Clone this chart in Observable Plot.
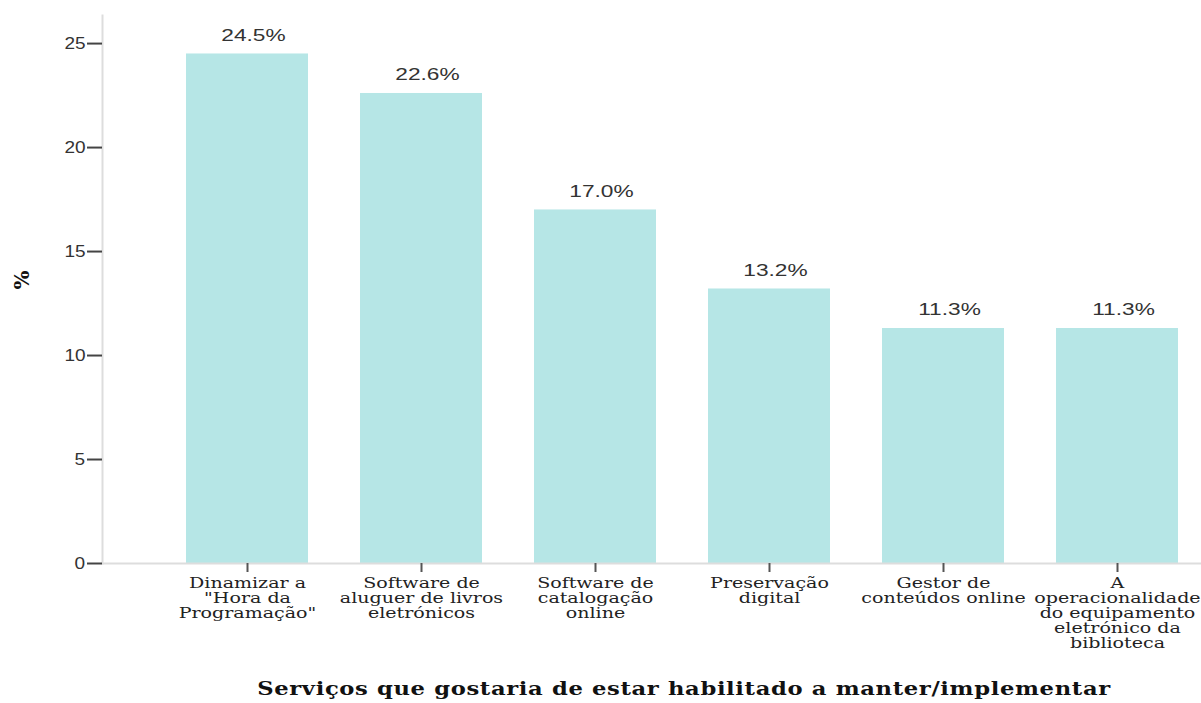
<!DOCTYPE html>
<html>
<head>
<meta charset="utf-8">
<script src="https://cdn.jsdelivr.net/npm/d3@7"></script>
<script src="https://cdn.jsdelivr.net/npm/@observablehq/plot@0.6"></script>
<style>
  html, body { margin: 0; padding: 0; background: #fff; }
  #chart svg { display: block; }
</style>
</head>
<body>
<div id="chart"></div>
<script>
const categories = [
  "Dinamizar a \"Hora da Programação\"",
  "Software de aluguer de livros eletrónicos",
  "Software de catalogação online",
  "Preservação digital",
  "Gestor de conteúdos online",
  "A operacionalidade do equipamento eletrónico da biblioteca"
];
const tickLabels = [
  "Dinamizar a\n\"Hora da\nProgramação\"",
  "Software de\naluguer de livros\neletrónicos",
  "Software de\ncatalogação\nonline",
  "Preservação\ndigital",
  "Gestor de\nconteúdos online",
  "A\noperacionalidade\ndo equipamento\neletrónico da\nbiblioteca"
];
const values = [24.5, 22.6, 17.0, 13.2, 11.3, 11.3];
const yTicks = [0, 5, 10, 15, 20, 25];
const xTitle = "Serviços que gostaria de estar habilitado a manter/implementar";
const yTitle = "%";

const fmt = v => v.toFixed(1) + "%";
const data = categories.map((c, i) => ({category: c, value: values[i], label: tickLabels[i]}));
const labelOf = new Map(categories.map((c, i) => [c, tickLabels[i]]));

const chart = Plot.plot({
  width: 1201,
  height: 703,
  marginLeft: 102,
  marginRight: 0,
  marginTop: 15,
  marginBottom: 140,
  style: {background: "#fff"},
  x: {domain: categories, paddingInner: 0.3, paddingOuter: 0.308, align: 0.78, label: null},
  y: {domain: [0, 26.35], label: null},
  marks: [
    Plot.barY(data, {x: "category", y: "value", fill: "#b6e6e6"}),
    Plot.ruleY([0], {stroke: "#dddddd", strokeWidth: 2}),
    Plot.frame({anchor: "left", stroke: "#dddddd", strokeWidth: 2}),
    Plot.axisY({
      ticks: yTicks, tickSize: 15, tickPadding: 3, stroke: "#444",
      strokeWidth: 2,
      fontSize: 17, fontFamily: "'Liberation Sans', Arial, sans-serif", fill: "#333", label: null
    }),
    Plot.axisX({
      tickSize: 9, tickPadding: 5, stroke: "#555", strokeWidth: 2,
      tickFormat: d => labelOf.get(d),
      fontSize: 15, fontFamily: "'DejaVu Serif', serif", fill: "#222",
      lineHeight: 1.0, label: null
    }),
    Plot.text(data, {
      x: "category", y: "value", text: d => fmt(d.value),
      dy: -13, dx: 6, lineAnchor: "bottom", fontSize: 16,
      fontFamily: "'Liberation Sans', Arial, sans-serif", fill: "#333"
    }),
    Plot.text([yTitle], {
      frameAnchor: "left", dx: -80, rotate: -90, fontSize: 20, fontWeight: "bold",
      fontFamily: "'DejaVu Serif', serif", fill: "#111"
    }),
    Plot.text([xTitle], {
      frameAnchor: "bottom", dy: 131, dx: 32, fontSize: 18, fontWeight: "bold",
      fontFamily: "'DejaVu Serif', serif", fill: "#111"
    })
  ]
});
document.getElementById("chart").append(chart);

// horizontal stretch of glyphs around each text's own centre, as in the reference
function stretch(selection, sx, spacing) {
  selection.each(function () {
    if (spacing) this.style.letterSpacing = spacing;
    const b = this.getBBox();
    const cx = b.x + b.width / 2;
    const t = this.getAttribute("transform") || "";
    this.setAttribute("transform", `${t} translate(${cx},0) scale(${sx},1) translate(${-cx},0)`.trim());
  });
}
const svg = d3.select(chart);
const valueStrings = new Set(values.map(fmt));
stretch(svg.selectAll('g[aria-label="y-axis tick label"] text'), 1.12);
stretch(svg.selectAll('g[aria-label="x-axis tick label"] text'), 1.27);
stretch(svg.selectAll("text").filter(function () { return valueStrings.has(this.textContent); }), 1.42);
stretch(svg.selectAll("text").filter(function () { return this.textContent === xTitle; }), 1.26, "0.5px");
</script>
</body>
</html>
